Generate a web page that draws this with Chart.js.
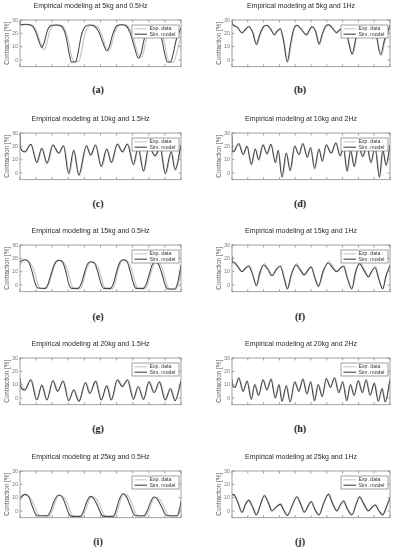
<!DOCTYPE html>
<html lang="en">
<head>
<meta charset="UTF-8">
<title>Empirical modeling</title>
<script src="https://cdn.jsdelivr.net/npm/chart.js"></script>
<style>
  body { margin: 0; background: #fff; }
  #wrap { position: relative; width: 397px; height: 550px; overflow: hidden; background: #fff; }
  .panel { position: absolute; }
  .tag {
    position: absolute;
    font: bold 10px 'Liberation Serif', 'DejaVu Serif', serif;
    color: #222;
    transform: translate(-50%, -50%);
  }
</style>
</head>
<body>
<div id="wrap"></div>
<script>
// titles and panel letters
const titles = [
  "Empirical modeling at 5kg and 0.5Hz", "Empirical modeling at 5kg and 1Hz",
  "Empirical modeling at 10kg and 1.5Hz", "Empirical modeling at 10kg and 2Hz",
  "Empirical modeling at 15kg and 0.5Hz", "Empirical modeling at 15kg and 1Hz",
  "Empirical modeling at 20kg and 1.5Hz", "Empirical modeling at 20kg and 2Hz",
  "Empirical modeling at 25kg and 0.5Hz", "Empirical modeling at 25kg and 1Hz"
];
const letters = ["(a)", "(b)", "(c)", "(d)", "(e)", "(f)", "(g)", "(h)", "(i)", "(j)"];
const yTicks = [0, 10, 20, 30];
const xTicks = [0, 1, 2, 3, 4, 5, 6, 7, 8, 9, 10];
const seriesNames = ["Exp. data", "Sim. model"];

// [x, y] pairs, x in tick intervals, y in %
const simA = [[0,30],[0.02,26.5],[0.3,26.8],[0.7,26],[0.95,22],[1.15,15],[1.35,9.5],[1.5,13],[1.7,22],[1.95,26],[2.3,26.3],[2.6,25],[2.85,18],[3.05,5],[3.2,-1.5],[3.45,-1.5],[3.6,5],[3.8,18],[4.05,25],[4.3,26.2],[4.6,25.5],[4.9,21],[5.15,13],[5.38,7],[5.55,10],[5.75,19],[6.0,25.5],[6.3,26.5],[6.6,25.5],[6.85,20],[7.1,10],[7.35,1.5],[7.5,4],[7.7,15],[7.95,23.5],[8.3,25.5],[8.55,24],[8.8,16],[9.0,4],[9.15,-1.5],[9.35,-1.5],[9.5,4],[9.7,15],[10,24]];
const expA = [[0,25.5],[0.3,26.5],[0.8,25.8],[1.05,21],[1.3,12],[1.5,7.5],[1.65,12],[1.85,22],[2.1,26],[2.45,26.2],[2.75,24],[3.0,15],[3.2,3],[3.35,-1],[3.65,-1],[3.8,5],[4.0,18],[4.25,25],[4.5,26.2],[4.8,25.3],[5.05,20],[5.3,11],[5.5,6.5],[5.65,10],[5.85,19],[6.1,25.5],[6.45,26.5],[6.75,25],[7.0,18],[7.25,8],[7.5,1.5],[7.65,5],[7.85,16],[8.1,24],[8.4,25.5],[8.7,23],[8.95,14],[9.15,2],[9.3,-1.5],[9.55,-1.5],[9.7,4],[10,18]];

const simB = [[0,29.5],[0.02,27],[0.3,25],[0.63,20.5],[0.85,23],[1.05,25],[1.3,21],[1.54,12],[1.75,19],[2.0,25],[2.2,26],[2.45,23],[2.67,19],[2.85,21.5],[3.05,23.5],[3.25,15],[3.5,-1.5],[3.7,12],[3.9,23],[4.1,26],[4.35,23.5],[4.7,19],[4.9,22.5],[5.05,25],[5.3,21],[5.5,12],[5.7,19],[5.9,25],[6.1,26.5],[6.35,24],[6.6,20.5],[6.8,22.5],[7.0,24],[7.3,17],[7.6,4.5],[7.85,17],[8.1,25],[8.3,25.5],[8.5,21.5],[8.7,20.5],[8.9,22.5],[9.1,20],[9.4,4],[9.65,15],[10,26]];
const expB = [[0,27],[0.3,25],[0.67,20],[0.88,23],[1.08,25.5],[1.32,21],[1.58,11],[1.78,19],[2.02,25],[2.22,26],[2.48,23],[2.7,18.5],[2.88,21.5],[3.08,23.5],[3.28,15],[3.55,-1],[3.75,12],[3.93,23],[4.13,26],[4.38,23.5],[4.74,18.5],[4.93,22.5],[5.08,25],[5.33,21],[5.55,11.5],[5.74,19],[5.93,25],[6.13,26.5],[6.38,24],[6.65,20],[6.83,22.5],[7.03,24],[7.33,17],[7.65,4],[7.88,17],[8.13,25],[8.33,25.5],[8.53,21.5],[8.74,20],[8.93,22.5],[9.13,20],[9.45,3.5],[9.7,15],[10,25]];

const simC = [[0,30],[0.02,19],[0.3,16],[0.67,21.5],[1.04,8],[1.35,18.5],[1.67,7.5],[2.04,21],[2.4,15],[2.7,20.5],[3.02,-0.5],[3.33,17],[3.65,-1.5],[4.12,20.5],[4.38,13.5],[4.69,21],[5.04,5],[5.38,18],[5.67,8],[6.04,21.5],[6.35,16],[6.67,21.5],[7.04,6.5],[7.33,19],[7.67,1.5],[8.0,20],[8.38,13],[8.7,19],[9.02,-0.5],[9.38,16],[9.63,2.5],[10,21]];
const expC = [[0,19],[0.3,15.5],[0.7,21.5],[1.08,7.5],[1.38,18.5],[1.71,7],[2.07,21],[2.43,14.5],[2.74,20.5],[3.06,-1],[3.37,17],[3.69,-2],[4.15,20.5],[4.42,13],[4.73,21],[5.08,4.5],[5.42,18],[5.71,7.5],[6.08,22],[6.39,15.5],[6.71,22],[7.08,6],[7.37,19],[7.71,1],[8.04,20],[8.42,12.5],[8.74,19.5],[9.06,-1],[9.42,16],[9.67,2],[10,20]];

const simD = [[0,28],[0.02,16],[0.1,16],[0.42,22],[0.7,14],[0.95,20],[1.22,6.5],[1.47,18],[1.68,10],[1.96,21],[2.21,14.5],[2.46,21.5],[2.74,8],[2.92,17],[3.16,-3],[3.43,15],[3.68,2],[3.96,20],[4.23,14],[4.48,22],[4.76,12],[4.97,19],[5.22,3.5],[5.5,18],[5.71,9],[5.96,21],[6.27,15],[6.57,22.5],[6.84,13],[7.05,19],[7.28,1.5],[7.5,17],[7.73,5],[8.0,20],[8.27,12.5],[8.53,21],[8.78,8],[9.05,19],[9.33,-3],[9.54,17],[9.75,6],[10,21]];
const expD = [[0,16],[0.1,16.5],[0.45,22.5],[0.73,13.5],[0.98,20],[1.25,6],[1.5,18],[1.71,9.5],[1.99,21.5],[2.24,14],[2.49,21.5],[2.77,7.5],[2.95,17],[3.19,-3.5],[3.46,15],[3.71,1.5],[3.99,20.5],[4.26,13.5],[4.51,22.5],[4.79,11.5],[5.0,19.5],[5.25,3],[5.53,18],[5.74,8.5],[5.99,21.5],[6.3,14.5],[6.6,23],[6.87,12.5],[7.08,19.5],[7.31,1],[7.53,17.5],[7.76,4.5],[8.03,20.5],[8.3,12],[8.56,21.5],[8.81,7.5],[9.08,19.5],[9.36,-3.5],[9.57,17],[9.78,5.5],[10,20.5]];

const simE = [[0,17],[0.02,17.5],[0.3,19],[0.55,17],[0.75,10],[0.95,1],[1.1,-2.3],[1.55,-2.5],[1.75,1],[1.95,9],[2.15,16],[2.4,18.5],[2.65,17],[2.85,10],[3.02,1],[3.2,-2.5],[3.6,-2.5],[3.8,1],[4.0,9],[4.18,15.5],[4.4,17.5],[4.65,16],[4.85,9],[5.05,0.5],[5.2,-2.5],[5.6,-2.5],[5.8,1],[6.0,10],[6.2,17],[6.4,19],[6.65,17.5],[6.85,10],[7.05,1],[7.2,-2.5],[7.65,-2.5],[7.85,1],[8.05,9],[8.2,15],[8.4,17],[8.6,15.5],[8.8,9],[9.0,0.5],[9.15,-3],[9.6,-3],[9.8,2],[10,15]];
const expE = [[0,15],[0.3,19],[0.6,17],[0.9,10],[1.1,1],[1.25,-2.5],[1.6,-2.8],[1.8,1],[2.0,9],[2.2,16],[2.45,18.5],[2.75,16.5],[3.0,9],[3.2,0],[3.35,-2.8],[3.7,-3],[3.9,1],[4.05,8],[4.25,15],[4.45,17.5],[4.75,15.5],[5.0,8],[5.2,-0.5],[5.35,-3],[5.7,-3],[5.9,1],[6.05,9],[6.25,16.5],[6.45,19],[6.75,17],[7.0,9],[7.2,0],[7.35,-2.8],[7.75,-3],[7.95,1],[8.1,8],[8.28,14.5],[8.45,17],[8.75,15],[8.95,8],[9.15,-0.5],[9.3,-3.2],[9.7,-3.2],[9.85,1],[10,12]];

const simF = [[0,22],[0.02,17],[0.15,17],[0.35,14],[0.63,10],[0.85,12.5],[1.05,14],[1.3,8],[1.54,-0.5],[1.75,9],[2.0,15],[2.25,12],[2.53,7],[2.8,11.5],[3.05,14],[3.3,5],[3.5,-3],[3.75,8],[4.06,15],[4.3,11.5],[4.57,7.5],[4.8,11],[5.0,13.5],[5.25,5],[5.47,-1],[5.75,10],[6.1,16.5],[6.35,13],[6.63,10],[6.85,12.5],[7.05,14],[7.3,5],[7.58,-3],[7.8,9],[8.06,16],[8.35,11],[8.63,6],[8.85,10.5],[9.05,13],[9.3,4],[9.53,-3],[9.75,7],[10,15]];
const expF = [[0,17],[0.35,14.5],[0.65,10.5],[0.88,13],[1.08,15],[1.33,8],[1.57,-0.5],[1.8,9],[2.03,16],[2.28,12.5],[2.56,7.5],[2.83,12],[3.08,14.5],[3.33,5],[3.53,-2.5],[3.8,8],[4.09,16],[4.33,12],[4.6,8],[4.83,11.5],[5.03,14],[5.28,5],[5.5,-0.5],[5.8,10],[6.13,18],[6.38,14],[6.66,10.5],[6.88,13],[7.08,15],[7.33,5],[7.61,-2.5],[7.85,9],[8.09,17],[8.38,11.5],[8.66,6.5],[8.88,11],[9.08,14],[9.33,4],[9.56,-2.5],[9.78,7],[10,14]];

const simG = [[0,15],[0.02,9],[0.3,6],[0.67,13.5],[1.04,-1.5],[1.35,9.5],[1.67,-1.5],[2.04,13],[2.33,5],[2.67,12.5],[3.02,-2],[3.33,6],[3.65,-2.5],[4.06,11.5],[4.33,3.5],[4.69,12.5],[5.04,-1.5],[5.38,9],[5.67,-1.5],[6.04,13.5],[6.35,8.5],[6.67,13.5],[7.04,-1],[7.33,8.5],[7.67,-1],[8.0,12],[8.33,4],[8.65,12],[9.02,-1.5],[9.33,7],[9.63,-2],[10,13]];
const expG = [[0,13],[0.3,6.5],[0.7,14],[1.08,-1],[1.38,10],[1.71,-1],[2.07,13.5],[2.37,5.5],[2.71,13],[3.06,-1.5],[3.37,6.5],[3.69,-2],[4.1,12],[4.37,4],[4.73,13],[5.08,-1],[5.42,9.5],[5.71,-1],[6.08,14],[6.39,9],[6.71,14],[7.08,-0.5],[7.37,9],[7.71,-0.5],[8.04,12.5],[8.37,4.5],[8.69,12.5],[9.06,-1],[9.37,7.5],[9.67,-1.5],[10,12]];

const simH = [[0,14],[0.02,9],[0.2,8],[0.42,15],[0.7,5],[0.95,12.5],[1.22,-1],[1.43,10],[1.68,2],[1.96,13.5],[2.21,6],[2.46,14],[2.74,0],[2.97,10],[3.16,-2.5],[3.43,9],[3.68,-3],[3.96,12],[4.23,5],[4.48,14],[4.74,3],[4.97,12],[5.22,-2],[5.45,10],[5.71,1],[5.96,14.5],[6.23,8],[6.48,15],[6.76,4],[7.0,12],[7.26,-2],[7.49,10],[7.73,2],[7.98,13],[8.25,4],[8.48,13.5],[8.74,2],[9.0,11],[9.26,-2.5],[9.49,7],[9.7,-3],[10,14]];
const expH = [[0,12],[0.2,8.5],[0.45,15.5],[0.73,5.5],[0.98,13],[1.25,-0.5],[1.46,10.5],[1.71,2.5],[1.99,14],[2.24,6.5],[2.49,14.5],[2.77,0.5],[3.0,10.5],[3.19,-2],[3.46,9.5],[3.71,-2.5],[3.99,12.5],[4.26,5.5],[4.51,14.5],[4.77,3.5],[5.0,12.5],[5.25,-1.5],[5.48,10.5],[5.74,1.5],[5.99,15],[6.26,8.5],[6.51,15.5],[6.79,4.5],[7.03,12.5],[7.29,-1.5],[7.52,10.5],[7.76,2.5],[8.01,13.5],[8.28,4.5],[8.51,14],[8.77,2.5],[9.03,11.5],[9.29,-2],[9.52,7.5],[9.73,-2.5],[10,13]];

const simI = [[0,10],[0.3,12.5],[0.55,10.5],[0.75,4],[0.95,-2],[1.1,-3.5],[1.7,-3.5],[1.9,0],[2.1,7],[2.4,12],[2.65,10],[2.85,4],[3.05,-2.5],[3.2,-4],[3.75,-4],[3.95,0],[4.15,7],[4.38,11],[4.6,9],[4.85,3],[5.05,-2.5],[5.2,-4],[5.8,-4],[5.95,0],[6.15,8],[6.38,13],[6.6,11],[6.85,4],[7.05,-2],[7.2,-3.5],[7.7,-3.5],[7.9,0],[8.1,6.5],[8.33,10.5],[8.55,8.5],[8.8,3],[9.0,-2],[9.15,-3.5],[9.75,-3.5],[9.9,1],[10,7]];
const expI = [[0,8],[0.3,12.5],[0.6,10.5],[0.9,4],[1.1,-2],[1.25,-3.5],[1.8,-3.8],[2.0,0],[2.2,7],[2.45,12],[2.75,10],[3.0,4],[3.2,-2.5],[3.35,-4],[3.85,-4.2],[4.05,0],[4.25,6.5],[4.45,11],[4.75,9],[5.0,3],[5.2,-2.5],[5.35,-4.2],[5.85,-4.2],[6.05,0],[6.25,8],[6.45,13],[6.75,11],[7.0,4],[7.2,-2],[7.35,-3.8],[7.8,-3.8],[8.0,0],[8.2,6.5],[8.4,10.5],[8.7,8.5],[8.95,3],[9.15,-2],[9.3,-3.8],[9.8,-3.8],[9.95,0],[10,1.5]];

const simJ = [[0,12],[0.1,12.5],[0.35,7],[0.63,-1],[0.85,5],[1.05,8],[1.3,3],[1.54,-3],[1.8,5],[2.04,11.5],[2.3,6],[2.53,0],[2.8,3],[3.05,5],[3.3,0],[3.5,-3.5],[3.8,4],[4.1,10.5],[4.35,5],[4.57,-1],[4.8,3.5],[5.0,7],[5.25,1],[5.5,-3],[5.8,6],[6.1,12.5],[6.35,6],[6.63,0],[6.85,4.5],[7.05,7.5],[7.3,1.5],[7.58,-3],[7.85,5],[8.06,10.5],[8.35,5],[8.63,0],[8.85,2.5],[9.05,4.5],[9.3,0],[9.53,-3],[9.8,4],[10,10]];
const expJ = [[0,11],[0.1,12],[0.38,7],[0.66,-0.5],[0.88,5],[1.08,8.5],[1.33,3],[1.57,-2.5],[1.83,5],[2.07,12],[2.33,6],[2.56,0.5],[2.83,3.5],[3.08,5.5],[3.33,0],[3.53,-3],[3.83,4],[4.13,11],[4.38,5],[4.6,-0.5],[4.83,4],[5.03,7.5],[5.28,1],[5.53,-2.5],[5.83,6],[6.13,13],[6.38,6],[6.66,0.5],[6.88,5],[7.08,8],[7.33,1.5],[7.61,-2.5],[7.88,5],[8.09,11],[8.38,5],[8.66,0.5],[8.88,3],[9.08,5],[9.33,0],[9.56,-2.5],[9.83,4],[10,9]];

const simSeries = [simA, simB, simC, simD, simE, simF, simG, simH, simI, simJ];
const expSeries = [expA, expB, expC, expD, expE, expF, expG, expH, expI, expJ];

const font = "'Liberation Sans', Arial, sans-serif";
const simColor = "#454545";
const expColor = "#c8c8c8";

// plot tops per row, canvas starts 18px above
const rowTops = [20, 133, 245, 358, 471];
const tagY = [89, 203, 315.5, 428, 540.5];
const cols = [
  { left: 0, width: 200, padRight: 19, tagX: 98 },
  { left: 212, width: 185, padRight: 7, tagX: 300 }
];

// frame, inward ticks and legend box like the matlab figure
const figurePlugin = {
  id: 'figure',
  afterDatasetsDraw(chart) {
    const ctx = chart.ctx;
    const a = chart.chartArea;
    const xs = chart.scales.x, ys = chart.scales.y;
    ctx.save();
    ctx.strokeStyle = "#8a8a8a";
    ctx.lineWidth = 0.8;
    ctx.strokeRect(a.left, a.top, a.right - a.left, a.bottom - a.top);
    ctx.beginPath();
    xTicks.forEach(v => {
      const px = xs.getPixelForValue(v);
      ctx.moveTo(px, a.bottom); ctx.lineTo(px, a.bottom - 2.5);
      ctx.moveTo(px, a.top); ctx.lineTo(px, a.top + 2.5);
    });
    yTicks.forEach(v => {
      const py = ys.getPixelForValue(v);
      ctx.moveTo(a.left, py); ctx.lineTo(a.left + 2.5, py);
      ctx.moveTo(a.right, py); ctx.lineTo(a.right - 2.5, py);
    });
    ctx.stroke();
    ctx.restore();
  },
  afterDraw(chart) {
    const ctx = chart.ctx;
    const a = chart.chartArea;
    const x0 = a.right - 49, y0 = a.top + 5, w = 47, h = 13;
    ctx.save();
    ctx.fillStyle = "#fff";
    ctx.fillRect(x0, y0, w, h);
    ctx.strokeStyle = "#7a7a7a";
    ctx.lineWidth = 0.7;
    ctx.strokeRect(x0, y0, w, h);
    const rows = [{ c: expColor, lw: 1.1, y: y0 + 3.8 }, { c: simColor, lw: 1.1, y: y0 + 9.2 }];
    ctx.font = "5.2px " + font;
    ctx.textBaseline = "middle";
    rows.forEach((r, i) => {
      ctx.strokeStyle = r.c;
      ctx.lineWidth = r.lw;
      ctx.beginPath();
      ctx.moveTo(x0 + 2.5, r.y);
      ctx.lineTo(x0 + 15, r.y);
      ctx.stroke();
      ctx.fillStyle = "#333";
      ctx.fillText(seriesNames[i], x0 + 17.5, r.y);
    });
    ctx.restore();
  }
};

const wrap = document.getElementById("wrap");

titles.forEach((title, i) => {
  const col = cols[i % 2];
  const row = Math.floor(i / 2);
  const canvas = document.createElement("canvas");
  canvas.className = "panel";
  canvas.width = col.width;
  canvas.height = 70;
  canvas.style.left = col.left + "px";
  canvas.style.top = (rowTops[row] - 18) + "px";
  wrap.appendChild(canvas);

  const tag = document.createElement("div");
  tag.className = "tag";
  tag.textContent = letters[i];
  tag.style.left = col.tagX + "px";
  tag.style.top = tagY[row] + "px";
  wrap.appendChild(tag);

  new Chart(canvas.getContext("2d"), {
    type: "line",
    data: {
      datasets: [
        {
          label: seriesNames[0],
          data: expSeries[i].map(p => ({ x: p[0], y: p[1] })),
          borderColor: expColor,
          borderWidth: 1.2,
          order: 1
        },
        {
          label: seriesNames[1],
          data: simSeries[i].map(p => ({ x: p[0], y: p[1] })),
          borderColor: simColor,
          borderWidth: 1.05,
          order: 0
        }
      ]
    },
    options: {
      responsive: false,
      animation: false,
      events: [],
      layout: { padding: { left: 0, right: col.padRight, top: 0, bottom: 0 } },
      elements: {
        point: { radius: 0 },
        line: { cubicInterpolationMode: "monotone", fill: false }
      },
      plugins: {
        legend: { display: false },
        tooltip: { enabled: false },
        title: {
          display: true,
          text: title,
          color: "#2a2a2a",
          font: { family: font, size: 7, weight: "normal" },
          padding: { top: 0, bottom: 9.6 }
        }
      },
      scales: {
        x: {
          type: "linear",
          min: 0,
          max: 10,
          grid: { display: false, drawTicks: false },
          border: { display: false },
          ticks: { display: false },
          afterFit: s => { s.height = 4; }
        },
        y: {
          min: -5,
          max: 30,
          afterBuildTicks: s => { s.ticks = yTicks.map(v => ({ value: v })); },
          afterFit: s => { s.width = 20; },
          grid: { display: false, drawTicks: false },
          border: { display: false },
          ticks: { color: "#7a7a7a", padding: 2, font: { family: font, size: 5.5 } },
          title: {
            display: true,
            text: "Contraction [%]",
            color: "#555",
            font: { family: font, size: 6.3 },
            padding: { top: 3.7, bottom: 0 }
          }
        }
      }
    },
    plugins: [figurePlugin]
  });
});
</script>
</body>
</html>
